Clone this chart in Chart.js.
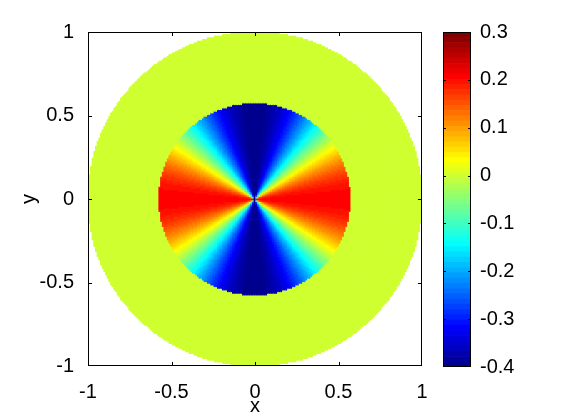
<!DOCTYPE html>
<html>
<head>
<meta charset="utf-8">
<title>Disc field</title>
<script src="https://cdn.jsdelivr.net/npm/chart.js@4.4.1/dist/chart.umd.min.js"></script>
<style>
  html, body { margin: 0; padding: 0; background: #fff; }
  #wrap { position: relative; width: 561px; height: 420px; }
  #wrap canvas { position: absolute; left: 0; top: 0; }
</style>
</head>
<body>
<div id="wrap">
  <canvas id="fieldChart" width="561" height="420"></canvas>
  <canvas id="barChart" width="561" height="420"></canvas>
</div>
<script>
// tick labels
const axisTicks = [-1, -0.5, 0, 0.5, 1];
const colorbarTicks = [-0.4, -0.3, -0.2, -0.1, 0, 0.1, 0.2, 0.3];

// colour range of the colorbar
const colorMin = -0.4;
const colorMax = 0.3;

// disc geometry (data units)
const innerRadius = 0.575;
const outerRadius = 1;
const outerValue = 0;

// inner disc: value vs angle from the x axis (deg), mirrored in every quadrant
const profileAngles = [0, 5, 10, 15, 20, 25, 30, 35, 40, 45, 50, 55, 60, 65, 70, 75, 80, 85, 90];
const profileValues = [0.21, 0.205, 0.192, 0.17, 0.14, 0.103, 0.06, 0.013, -0.038, -0.09,
                       -0.142, -0.195, -0.245, -0.29, -0.33, -0.36, -0.382, -0.395, -0.4];

const gridStep = 0.01;

const fontSpec = { family: "'Liberation Sans', Arial, Helvetica, sans-serif", size: 20, lineHeight: 1.2 };

// matlab jet(64)
function jetColor(j) {
    let r, g, b;
    if (j < 24) r = 0; else if (j < 40) r = (j - 23) / 16; else if (j < 56) r = 1; else r = 1 - (j - 55) / 16;
    if (j < 8) g = 0; else if (j < 24) g = (j - 7) / 16; else if (j < 39) g = 1; else if (j < 55) g = 1 - (j - 39) / 16; else g = 0;
    if (j < 8) b = (j + 9) / 16; else if (j < 24) b = 1; else if (j < 39) b = 1 - (j - 23) / 16; else b = 0;
    return `rgb(${Math.round(r * 255)}, ${Math.round(g * 255)}, ${Math.round(b * 255)})`;
}

function colorFor(v) {
    const f = (v - colorMin) / (colorMax - colorMin);
    const j = Math.min(63, Math.max(0, Math.floor(f * 64)));
    return jetColor(j);
}

function profileAt(angle) {
    for (let i = 1; i < profileAngles.length; i++) {
        if (angle <= profileAngles[i]) {
            const t = (angle - profileAngles[i - 1]) / (profileAngles[i] - profileAngles[i - 1]);
            return profileValues[i - 1] + t * (profileValues[i] - profileValues[i - 1]);
        }
    }
    return profileValues[profileValues.length - 1];
}

function cellValue(x, y) {
    const r = Math.hypot(x, y);
    if (r > innerRadius) return outerValue;
    if (r === 0) return profileValues[profileValues.length - 1];
    let a = Math.abs(Math.atan2(y, x)) * 180 / Math.PI;
    if (a > 90) a = 180 - a;
    return profileAt(a);
}

// cells of the disc
const cells = [];
const cellColors = [];
const n = Math.round(2 / gridStep);
for (let i = 0; i <= n; i++) {
    for (let k = 0; k <= n; k++) {
        const x = -1 + i * gridStep;
        const y = -1 + k * gridStep;
        if (Math.hypot(x, y) > outerRadius + 1e-9) continue;
        cells.push({ x: x, y: y });
        cellColors.push(colorFor(cellValue(x, y)));
    }
}

// box + inward tick marks, matlab style
function boxPlugin(tickLen, sides) {
    return {
        id: 'box',
        afterDatasetsDraw(chart) {
            const { ctx, chartArea: a, scales } = chart;
            ctx.save();
            ctx.strokeStyle = '#000';
            ctx.lineWidth = 1;
            ctx.strokeRect(a.left + 0.5, a.top + 0.5, a.right - a.left - 1, a.bottom - a.top - 1);
            ctx.beginPath();
            if (sides.x) {
                scales.x.ticks.forEach(t => {
                    let px = Math.round(scales.x.getPixelForValue(t.value)) + 0.5;
                    px = Math.min(px, a.right - 0.5);
                    ctx.moveTo(px, a.bottom); ctx.lineTo(px, a.bottom - tickLen);
                    ctx.moveTo(px, a.top); ctx.lineTo(px, a.top + tickLen);
                });
            }
            scales.y.ticks.forEach(t => {
                let py = Math.round(scales.y.getPixelForValue(t.value)) + 0.5;
                py = Math.min(py, a.bottom - 0.5);
                ctx.moveTo(a.left, py); ctx.lineTo(a.left + tickLen, py);
                ctx.moveTo(a.right, py); ctx.lineTo(a.right - tickLen, py);
            });
            ctx.stroke();
            ctx.restore();
        }
    };
}

const fieldChart = new Chart(document.getElementById('fieldChart'), {
    type: 'scatter',
    data: {
        datasets: [{
            data: cells,
            pointStyle: 'rect',
            pointRadius: 1.8,
            pointHoverRadius: 1.8,
            pointBorderWidth: 0,
            pointBackgroundColor: cellColors
        }]
    },
    options: {
        responsive: false,
        animation: false,
        events: [],
        devicePixelRatio: 1,
        layout: { padding: { left: 0, top: 32, right: 139, bottom: 0 } },
        plugins: { legend: { display: false }, tooltip: { enabled: false } },
        scales: {
            x: {
                type: 'linear', min: -1, max: 1,
                grid: { display: false }, border: { display: false },
                afterBuildTicks: s => { s.ticks = axisTicks.map(v => ({ value: v })); },
                afterFit: s => { s.height = 54; },
                ticks: { color: '#000', font: fontSpec, padding: 6, autoSkip: false, maxRotation: 0, callback: v => String(v) },
                title: { display: true, text: 'x', color: '#000', font: fontSpec, padding: { top: 0, bottom: 2 } }
            },
            y: {
                type: 'linear', min: -1, max: 1,
                grid: { display: false }, border: { display: false },
                afterBuildTicks: s => { s.ticks = axisTicks.map(v => ({ value: v })); },
                afterFit: s => { s.width = 88; },
                ticks: { color: '#000', font: fontSpec, padding: 6, autoSkip: false, callback: v => String(v) },
                title: { display: true, text: 'y', color: '#000', font: fontSpec, padding: { top: 17.5, bottom: 0 } }
            }
        }
    },
    plugins: [boxPlugin(4, { x: true })]
});

// colorbar: 64 floating bars stacked on one category
const levelSize = (colorMax - colorMin) / 64;
const levelSets = [];
for (let j = 0; j < 64; j++) {
    const lo = colorMin + j * levelSize;
    levelSets.push({
        data: [[lo, lo + levelSize]],
        backgroundColor: jetColor(j),
        borderWidth: 0,
        grouped: false,
        barPercentage: 1,
        categoryPercentage: 1
    });
}

const barChart = new Chart(document.getElementById('barChart'), {
    type: 'bar',
    data: { labels: [''], datasets: levelSets },
    options: {
        responsive: false,
        animation: false,
        events: [],
        devicePixelRatio: 1,
        layout: { padding: { left: 443, top: 32, right: 0, bottom: 53 } },
        plugins: { legend: { display: false }, tooltip: { enabled: false } },
        scales: {
            x: { display: false },
            y: {
                type: 'linear', position: 'right', min: colorMin, max: colorMax,
                grid: { display: false }, border: { display: false },
                afterBuildTicks: s => { s.ticks = colorbarTicks.map(v => ({ value: v })); },
                afterFit: s => { s.width = 90; },
                ticks: { color: '#000', font: fontSpec, padding: 1, autoSkip: false, callback: v => String(v) }
            }
        }
    },
    plugins: [boxPlugin(3, { x: false })]
});
</script>
</body>
</html>
